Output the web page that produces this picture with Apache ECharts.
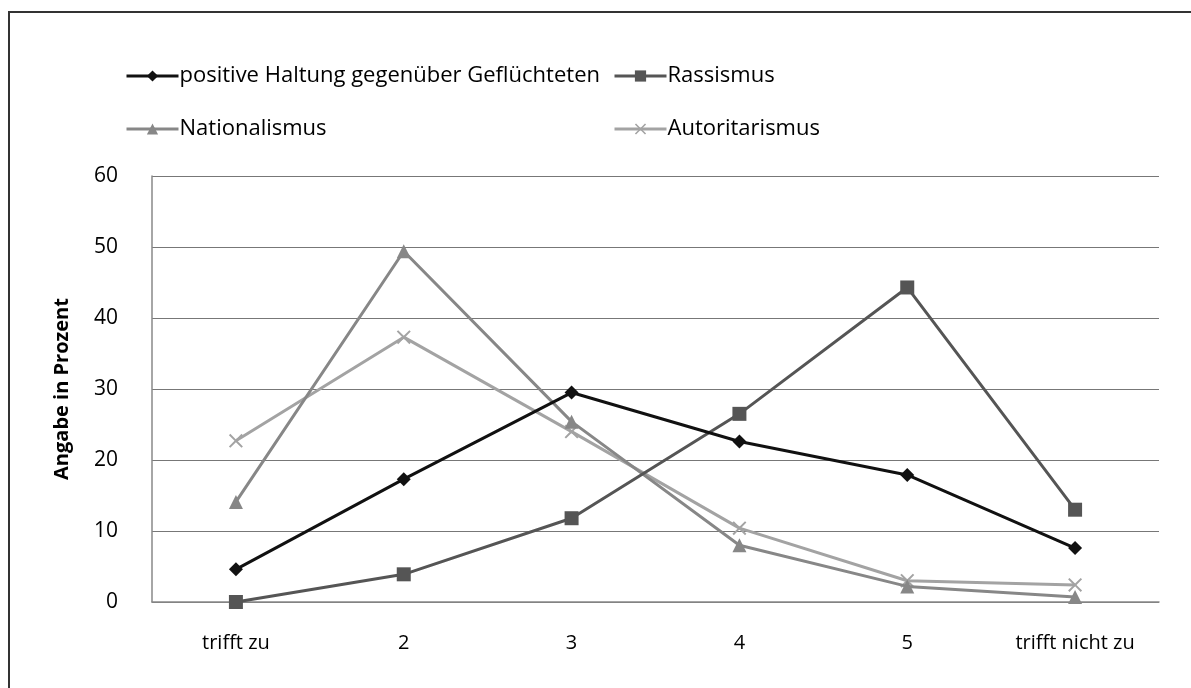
<!DOCTYPE html>
<html>
<head>
  <meta charset="UTF-8">
  <title>Haltungen</title>
  <script src="https://cdn.jsdelivr.net/npm/echarts@6/dist/echarts.min.js"></script>
  <style>
    html, body { margin: 0; padding: 0; background: #fff; }
    #main { width: 1191px; height: 688px; }
  </style>
</head>
<body>
  <div id="main"></div>
  <script>
    var categories = ['trifft zu', '2', '3', '4', '5', 'trifft nicht zu'];
    var positiv = [4.6, 17.3, 29.5, 22.6, 17.9, 7.6];
    var rassismus = [0, 3.9, 11.8, 26.5, 44.3, 13.0];
    var nationalismus = [14.1, 49.4, 25.4, 8.0, 2.2, 0.7];
    var autoritarismus = [22.7, 37.3, 24.0, 10.4, 3.0, 2.4];

    var crossPath = 'path://M0,1L1,0L5,4L9,0L10,1L6,5L10,9L9,10L5,6L1,10L0,9L4,5Z';
    var font = '"Open Sans", "Noto Sans", sans-serif';

    var chart = echarts.init(document.getElementById('main'));

    function legendAt(name, left, top) {
      return {
        data: [name],
        left: left,
        top: top,
        itemWidth: 52,
        itemHeight: 14,
        itemGap: 0,
        selectedMode: false,
        lineStyle: { width: 3 },
        textStyle: { fontFamily: font, fontSize: 22, color: '#000', padding: [0, 0, 0, -4] }
      };
    }

    var option = {
      backgroundColor: '#fff',
      animation: false,
      graphic: [{
        type: 'rect',
        shape: { x: 9, y: 12, width: 1200, height: 700 },
        style: { fill: 'none', stroke: '#333', lineWidth: 2 }
      }],
      legend: [
        legendAt('positive Haltung gegenüber Geflüchteten', 120, 60),
        legendAt('Rassismus', 608, 60),
        legendAt('Nationalismus', 120, 113),
        legendAt('Autoritarismus', 608, 113)
      ],
      grid: { left: 152, right: 32, top: 176, bottom: 86 },
      xAxis: {
        type: 'category',
        data: categories,
        boundaryGap: true,
        axisLine: { lineStyle: { color: '#888', width: 1.5 } },
        axisTick: { show: false },
        axisLabel: { fontFamily: font, fontSize: 20, color: '#000', margin: 31 }
      },
      yAxis: {
        type: 'value',
        min: 0,
        max: 60,
        interval: 10,
        name: 'Angabe in Prozent',
        nameLocation: 'middle',
        nameGap: 80,
        nameTextStyle: { fontFamily: font, fontSize: 20, fontWeight: 'bold', color: '#000' },
        axisLine: { show: true, lineStyle: { color: '#888', width: 1.5 } },
        axisTick: { show: false },
        axisLabel: { fontFamily: font, fontSize: 21, color: '#000', margin: 34 },
        splitLine: { lineStyle: { color: '#777', width: 1.2 } }
      },
      series: [
        {
          name: 'positive Haltung gegenüber Geflüchteten',
          type: 'line',
          data: positiv,
          symbol: 'diamond',
          symbolSize: 14,
          lineStyle: { color: '#111', width: 3 },
          itemStyle: { color: '#111' },
          z: 5
        },
        {
          name: 'Rassismus',
          type: 'line',
          data: rassismus,
          symbol: 'rect',
          symbolSize: 14,
          lineStyle: { color: '#555', width: 3 },
          itemStyle: { color: '#555' },
          z: 4
        },
        {
          name: 'Nationalismus',
          type: 'line',
          data: nationalismus,
          symbol: 'triangle',
          symbolSize: 14,
          lineStyle: { color: '#878787', width: 3 },
          itemStyle: { color: '#878787' },
          z: 3
        },
        {
          name: 'Autoritarismus',
          type: 'line',
          data: autoritarismus,
          symbol: crossPath,
          symbolSize: 14,
          lineStyle: { color: '#a3a3a3', width: 3 },
          itemStyle: { color: '#a3a3a3' },
          z: 2
        }
      ]
    };

    chart.setOption(option);
  </script>
</body>
</html>
